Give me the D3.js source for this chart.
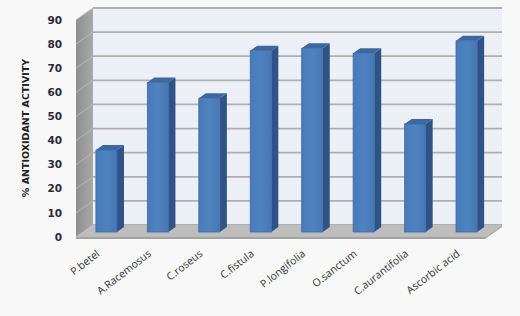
<!DOCTYPE html>
<html><head><meta charset="utf-8">
<script src="https://cdn.jsdelivr.net/npm/d3@7"></script>
<style>html,body{margin:0;padding:0;background:#f8f8f8;}svg{display:block;}</style>
</head><body>
<svg id="c" width="520" height="316"></svg>
<script>
const categories = ["P.betel","A.Racemosus","C.roseus","C.fistula","P.longifolia","O.sanctum","C.aurantifolia","Ascorbic acid"];
const values = [34, 62, 55.5, 75.2, 76.2, 74.1, 44.8, 79.3];
const yTicks = [0,10,20,30,40,50,60,70,80,90];
const yTitle = "% ANTIOXIDANT ACTIVITY";

const svg = d3.select("#c");
const W = 520, H = 316;
svg.append("rect").attr("width",W).attr("height",H).attr("fill","#f8f8f8");

// 3D geometry
const front = {x0:76, x1:485};
const depth = {dx:17, dy:-12};
const barOff = {dx:6, dy:-5};
const barDepth = {dx:7, dy:-5};
const yFront = d3.scaleLinear().domain([0,90]).range([237,20]);
const yBack = v => yFront(v) + depth.dy;
const yBar = v => yFront(v) + barOff.dy;
const x = d3.scaleBand().domain(categories).range([front.x0+barOff.dx, front.x1+barOff.dx]).paddingInner(0.59).paddingOuter(0.27);

const poly = pts => "M" + pts.map(p=>p.join(",")).join("L") + "Z";

// back wall
const bx0 = front.x0+depth.dx, bx1 = front.x1+depth.dx;
const defs = svg.append("defs");
const pat = defs.append("pattern").attr("id","dots").attr("width",2).attr("height",2).attr("patternUnits","userSpaceOnUse");
pat.append("rect").attr("width",2).attr("height",2).attr("fill","#eef1f8");
pat.append("rect").attr("width",1).attr("height",1).attr("fill","#e7ebf3");
svg.append("rect").attr("x",bx0).attr("y",yBack(90)).attr("width",bx1-bx0).attr("height",yBack(0)-yBack(90)).attr("fill","url(#dots)");

// side wall
const sg = defs.append("linearGradient").attr("id","sideg").attr("x1",0).attr("x2",1).attr("y1",0).attr("y2",0);
sg.append("stop").attr("offset","0").attr("stop-color","#8e8e8e");
sg.append("stop").attr("offset","1").attr("stop-color","#a9a9a9");
svg.append("path").attr("d", poly([[front.x0,yFront(0)],[front.x0,yFront(90)],[bx0,yBack(90)],[bx0,yBack(0)]])).attr("fill","url(#sideg)");

// gridlines
yTicks.forEach(v=>{
  svg.append("line").attr("x1",bx0).attr("x2",bx1).attr("y1",yBack(v)).attr("y2",yBack(v))
    .attr("stroke","#afafaf").attr("stroke-width",1.8);
  svg.append("line").attr("x1",front.x0).attr("x2",bx0).attr("y1",yFront(v)).attr("y2",yBack(v))
    .attr("stroke","#b9b9b9").attr("stroke-width",1);
});

// floor
svg.append("path").attr("d", poly([[front.x0,yFront(0)],[front.x1,yFront(0)],[bx1,yBack(0)],[bx0,yBack(0)]])).attr("fill","#bdbdbd");
svg.append("path").attr("d", poly([[front.x0,yFront(0)],[front.x1,yFront(0)],[front.x1,yFront(0)+2],[front.x0,yFront(0)+2]])).attr("fill","#a2a2a2");
svg.append("path").attr("d", poly([[front.x1,yFront(0)],[bx1,yBack(0)],[bx1,yBack(0)+2],[front.x1,yFront(0)+2]])).attr("fill","#a8a8a8");

// bars
const fg = defs.append("linearGradient").attr("id","frontg").attr("x1",0).attr("x2",1).attr("y1",0).attr("y2",0);
fg.append("stop").attr("offset","0").attr("stop-color","#4a7ab8");
fg.append("stop").attr("offset","0.5").attr("stop-color","#4f82c1");
fg.append("stop").attr("offset","1").attr("stop-color","#4877b4");
const g = svg.append("g");
categories.forEach((c,i)=>{
  const v = values[i];
  const x0 = x(c), x1 = x(c)+x.bandwidth();
  const yt = yBar(v), yb = yBar(0);
  g.append("path").attr("d", poly([[x1,yb],[x1,yt],[x1+barDepth.dx,yt+barDepth.dy],[x1+barDepth.dx,yb+barDepth.dy]])).attr("fill","#2f5386");
  g.append("path").attr("d", poly([[x0,yt],[x1,yt],[x1+barDepth.dx,yt+barDepth.dy],[x0+barDepth.dx,yt+barDepth.dy]])).attr("fill","#3c679f");
  g.append("rect").attr("x",x0).attr("y",yt).attr("width",x1-x0).attr("height",yb-yt).attr("fill","url(#frontg)")
    .attr("stroke","#3f6ba3").attr("stroke-width",0.8);
});

// y tick labels
svg.append("g").selectAll("text").data(yTicks).join("text")
  .attr("x",62).attr("y",d=>yFront(d)).attr("dy","0.35em").attr("text-anchor","end")
  .attr("font-family","DejaVu Sans, sans-serif").attr("font-size",10.5).attr("font-weight","bold")
  .attr("fill","#2a2a3a").text(d=>d);

// y title
svg.append("text").attr("transform","translate(29,128) rotate(-90)").attr("text-anchor","middle")
  .attr("font-family","DejaVu Sans, sans-serif").attr("font-size",9.5).attr("font-weight","bold")
  .attr("fill","#222").text(yTitle);

// x labels
svg.append("g").selectAll("text").data(categories).join("text")
  .attr("transform",d=>`translate(${x(d)+x.bandwidth()/2-6},${255}) rotate(-38)`)
  .attr("text-anchor","end").attr("font-family","Open Sans, DejaVu Sans, sans-serif").attr("font-size",10.5)
  .attr("fill","#333").text(d=>d);
</script>
</body></html>
